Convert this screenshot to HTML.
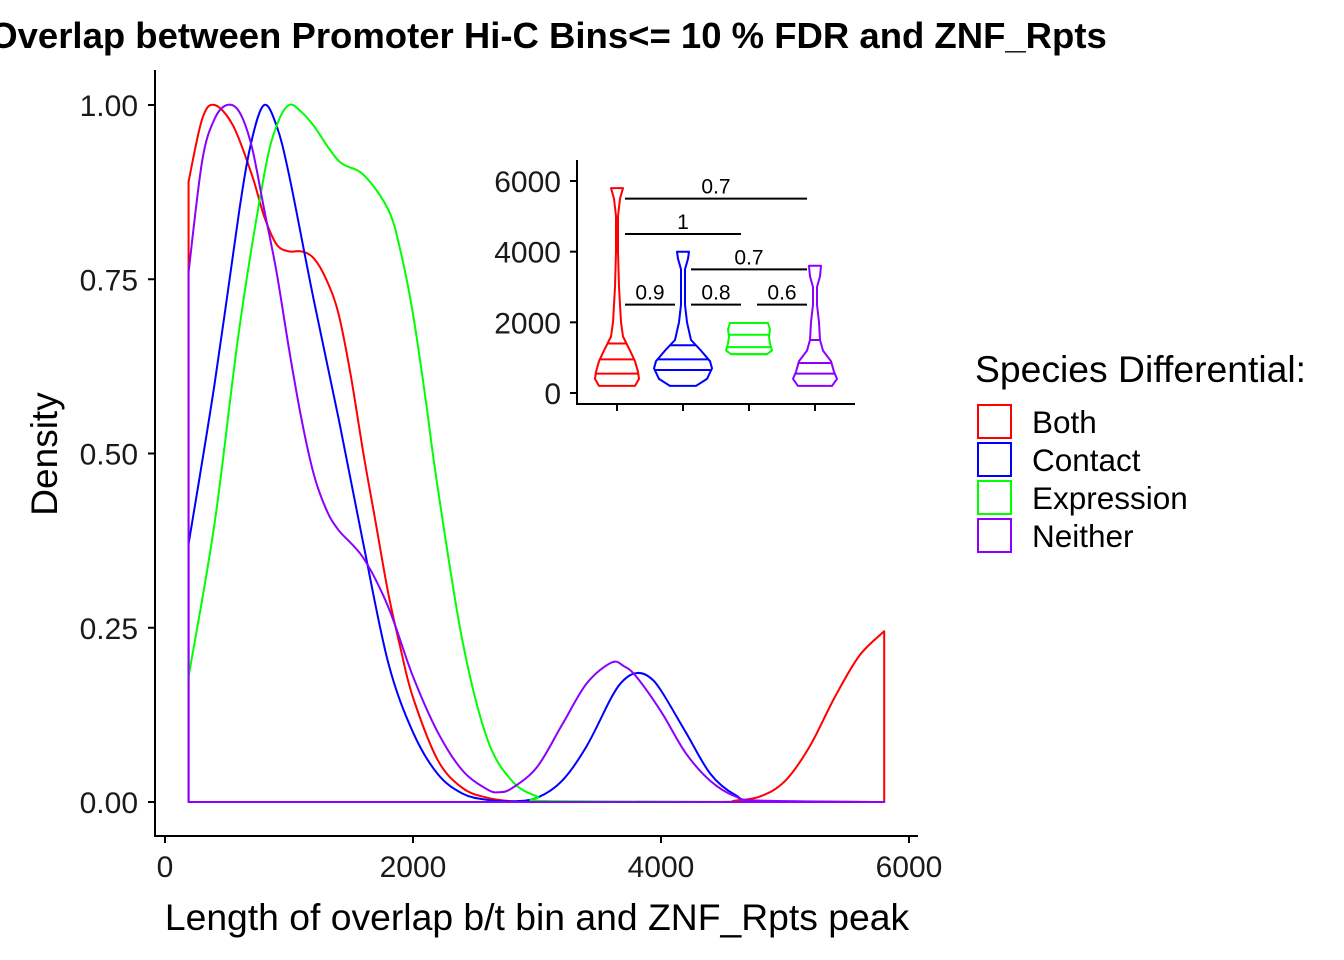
<!DOCTYPE html>
<html><head><meta charset="utf-8"><style>
html,body{margin:0;padding:0;background:#fff;}
svg{display:block;font-family:"Liberation Sans",Arial,sans-serif;}
</style></head><body>
<svg id="chart" width="1344" height="960">
<text x="548" y="48" text-anchor="middle" font-size="36.5" font-weight="bold">Overlap between Promoter Hi-C Bins&lt;= 10 % FDR and ZNF_Rpts</text>
<g id="main"></g>
<g id="inset"></g>
<g id="legend"></g>
<text x="537" y="930" text-anchor="middle" font-size="37.3">Length of overlap b/t bin and ZNF_Rpts peak</text>
<text transform="translate(57,454) rotate(-90)" text-anchor="middle" font-size="37">Density</text>
</svg>
<script>
const seriesNames=["Both","Contact","Expression","Neither"];
const seriesColors=["#ff0000","#0000ff","#00ff00","#8b00ff"];
const xTicks=[0,2000,4000,6000];
const yTicks=[0,0.25,0.5,0.75,1.0];
const yTickLabels=["0.00","0.25","0.50","0.75","1.00"];
const bothX=[190,300,400,550,700,800,900,1000,1100,1200,1300,1400,1500,1600,1700,1800,1900,2000,2200,2400,2600,2800,3000,4400,4600,4800,5000,5200,5400,5600,5800];
const bothY=[0.89,0.98,1.0,0.97,0.9,0.84,0.8,0.79,0.79,0.78,0.75,0.7,0.61,0.5,0.4,0.3,0.22,0.15,0.06,0.02,0.006,0.001,0,0,0.002,0.008,0.03,0.08,0.15,0.21,0.245];
const contactX=[190,400,600,700,800,900,1000,1200,1400,1600,1800,2000,2200,2400,2600,2800,3000,3200,3400,3600,3700,3800,3900,4000,4200,4400,4600,4800,5800];
const contactY=[0.37,0.6,0.85,0.95,1.0,0.97,0.9,0.72,0.55,0.37,0.2,0.1,0.04,0.012,0.003,0.001,0.006,0.03,0.08,0.15,0.175,0.185,0.18,0.16,0.1,0.04,0.01,0.001,0];
const exprX=[190,400,600,800,900,1000,1100,1200,1400,1600,1800,1900,2000,2100,2200,2400,2600,2800,3000,3200,5800];
const exprY=[0.18,0.4,0.68,0.9,0.97,1.0,0.99,0.97,0.92,0.9,0.85,0.79,0.7,0.58,0.45,0.23,0.09,0.03,0.008,0.001,0];
const neitherX=[190,300,400,500,600,700,800,900,1000,1100,1200,1300,1400,1600,1800,2000,2200,2400,2600,2700,2800,3000,3200,3400,3600,3700,3800,4000,4200,4400,4600,4800,5800];
const neitherY=[0.76,0.92,0.98,1.0,0.99,0.94,0.85,0.76,0.65,0.55,0.47,0.42,0.39,0.35,0.28,0.18,0.1,0.045,0.018,0.014,0.02,0.05,0.11,0.17,0.2,0.195,0.18,0.13,0.07,0.03,0.008,0.002,0];
const violinCats=["Both","Contact","Expression","Neither"];
const violinVals=[
 [200,400,600,900,1200,1600,2000,2500,3000,4000,5000,5500,5800],
 [200,400,700,900,1200,1500,2000,2500,3000,3500,3800,4000],
 [1100,1200,1400,1600,1800,1980],
 [200,400,600,900,1200,1500,2000,2500,3000,3300,3600]];
const violinWidths=[
 [18,22,21,18,13,6,4,3,2,1,1,3,6],
 [13,24,29,27,18,8,4,2,2,2,5,6],
 [18,23,21,20,21,19],
 [17,22,19,16,8,5,4,2,2,5,6]];
const violinQuart=[[550,950,1400],[650,950,1350],[1100,1300,1650],[550,850,1500]];
const insetTicks=[0,2000,4000,6000];
const bracketFrom=[0,0,1,0,1,2];
const bracketTo=[3,2,3,1,2,3];
const bracketY=[5500,4500,3500,2500,2500,2500];
const bracketLabels=["0.7","1","0.7","0.9","0.8","0.6"];

const NS="http://www.w3.org/2000/svg";
function mk(tag,attrs,parent){const e=document.createElementNS(NS,tag);for(const k in attrs)e.setAttribute(k,attrs[k]);parent.appendChild(e);return e;}
const sx=v=>165+v*0.124, sy=v=>802-v*697;
const main=document.getElementById('main');
let ax=mk('path',{d:'M155,70 V836 H918',fill:'none',stroke:'#000','stroke-width':2},main);


xTicks.forEach(t=>{
 let l=mk('line',{x1:sx(t),x2:sx(t),y1:836,y2:843,stroke:'#000','stroke-width':2},main);
 
 
 let tx=mk('text',{x:sx(t),y:877,'text-anchor':'middle','font-size':30,fill:'#1a1a1a'},main);tx.textContent=t;
 
 
});
yTicks.forEach((t,i)=>{
 let l=mk('line',{x1:148,x2:155,y1:sy(t),y2:sy(t),stroke:'#000','stroke-width':2},main);
 
 
 let tx=mk('text',{x:138,y:sy(t)+11,'text-anchor':'end','font-size':30,fill:'#1a1a1a'},main);tx.textContent=yTickLabels[i];
 
 
});
function smooth(pts){
 let d='';
 for(let i=0;i<pts.length-1;i++){
  const p0=pts[Math.max(0,i-1)],p1=pts[i],p2=pts[i+1],p3=pts[Math.min(pts.length-1,i+2)];
  const c1x=p1[0]+(p2[0]-p0[0])/6,c1y=p1[1]+(p2[1]-p0[1])/6;
  const c2x=p2[0]-(p3[0]-p1[0])/6,c2y=p2[1]-(p3[1]-p1[1])/6;
  d+=' C'+c1x.toFixed(1)+','+Math.min(802,c1y).toFixed(1)+' '+c2x.toFixed(1)+','+Math.min(802,c2y).toFixed(1)+' '+p2[0].toFixed(1)+','+p2[1].toFixed(1);
 }
 return d;
}
const allX=[bothX,contactX,exprX,neitherX], allY=[bothY,contactY,exprY,neitherY];
allX.forEach((xs,s)=>{
 const ys=allY[s];
 const pts=xs.map((x,i)=>[sx(x),sy(ys[i])]);
 let d='M'+sx(xs[0])+','+sy(0)+' L'+pts[0][0]+','+pts[0][1];
 d+=smooth(pts);
 d+=' L'+sx(xs[xs.length-1])+','+sy(0)+' Z';
 let p=mk('path',{d:d,fill:'none',stroke:seriesColors[s],'stroke-width':2,'stroke-linejoin':'round'},main);
 
 
});
// inset
const inset=document.getElementById('inset');
const iy=v=>393-v*212/6000, ix=i=>617+i*66;
let iax=mk('path',{d:'M577,160 V404 H855',fill:'none',stroke:'#000','stroke-width':2},inset);


insetTicks.forEach(t=>{
 let l=mk('line',{x1:570,x2:577,y1:iy(t),y2:iy(t),stroke:'#000','stroke-width':2},inset);
 
 
 let tx=mk('text',{x:561,y:iy(t)+11,'text-anchor':'end','font-size':30,fill:'#1a1a1a'},inset);tx.textContent=t;
 
 
});
violinCats.forEach((c,i)=>{
 let l=mk('line',{x1:ix(i),x2:ix(i),y1:404,y2:411,stroke:'#000','stroke-width':2},inset);
 
 
 const vs=violinVals[i], ws=violinWidths[i];
 let d='';
 vs.forEach((v,j)=>{d+=(j?' L':'M')+(ix(i)+ws[j])+','+iy(v).toFixed(1);});
 for(let j=vs.length-1;j>=0;j--)d+=' L'+(ix(i)-ws[j])+','+iy(vs[j]).toFixed(1);
 d+=' Z';
 let p=mk('path',{d:d,fill:'none',stroke:seriesColors[i],'stroke-width':2,'stroke-linejoin':'round'},inset);
 
 
 violinQuart[i].forEach(q=>{
  let k=0;while(k<vs.length-2&&vs[k+1]<q)k++;
  const f=Math.max(0,Math.min(1,(q-vs[k])/(vs[k+1]-vs[k])));
  const w=ws[k]+(ws[k+1]-ws[k])*f;
  let ql=mk('line',{x1:ix(i)-w,x2:ix(i)+w,y1:iy(q),y2:iy(q),stroke:seriesColors[i],'stroke-width':2},inset);
  
  
 });
});
bracketY.forEach((b,k)=>{
 let l=mk('line',{x1:ix(bracketFrom[k])+8,x2:ix(bracketTo[k])-8,y1:iy(b),y2:iy(b),stroke:'#000','stroke-width':2},inset);
 
 
 let t=mk('text',{x:(ix(bracketFrom[k])+ix(bracketTo[k]))/2,y:iy(b)-5,'text-anchor':'middle','font-size':21},inset);t.textContent=bracketLabels[k];
 
 
});
// legend
const lg=document.getElementById('legend');
let lt=mk('text',{x:975,y:382,'font-size':37.3},lg);lt.textContent='Species Differential:';


seriesNames.forEach((n,i)=>{
 let r=mk('rect',{x:978,y:405+i*38,width:33,height:33,fill:'none',stroke:seriesColors[i],'stroke-width':2},lg);
 
 
 let t=mk('text',{x:1032,y:433+i*38,'font-size':31.5},lg);t.textContent=n;
 
 
});
</script>
</body></html>
